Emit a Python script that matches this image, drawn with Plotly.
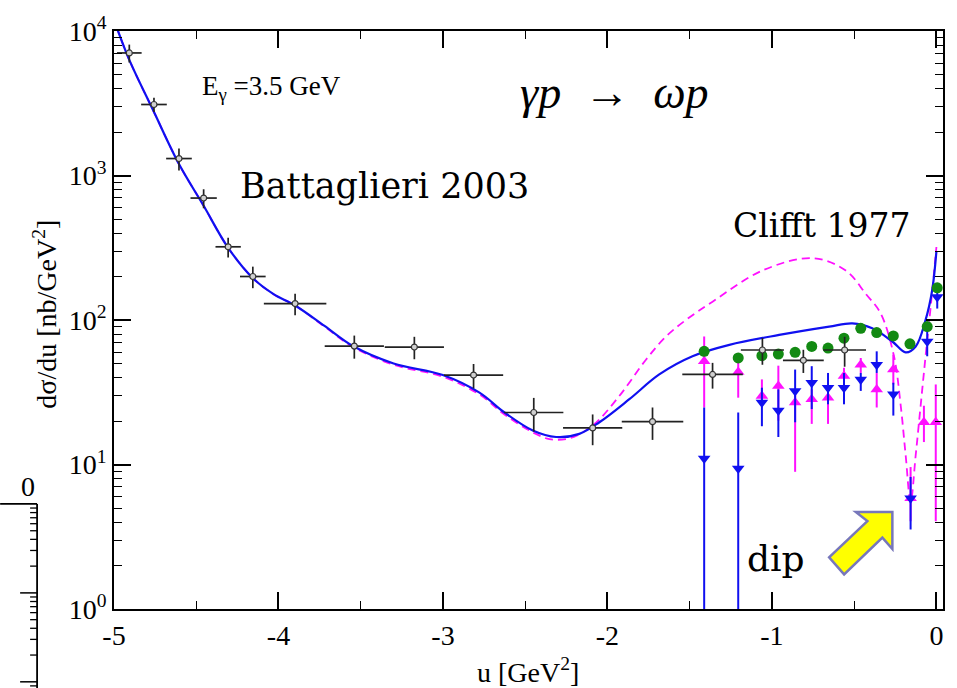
import math
import plotly.graph_objects as go

# ---------------------------------------------------------------- data
# Battaglieri 2003 (CLAS), E_gamma = 3.5 GeV
bat_u = [-4.907, -4.757, -4.605, -4.455, -4.306, -4.156, -3.899, -3.539, -3.174,
         -2.814, -2.448, -2.090, -1.726, -1.361, -1.058, -0.809, -0.558]
bat_xs = [7050, 3100, 1310, 698, 321, 200, 130, 66.0, 65.0,
          41.6, 22.9, 17.9, 19.8, 42.0, 62.0, 52.6, 62.0]
bat_du = [0.075, 0.078, 0.078, 0.080, 0.077, 0.078, 0.19, 0.18, 0.18,
          0.18, 0.18, 0.18, 0.187, 0.184, 0.131, 0.124, 0.13]
bat_err = [1000, 350, 225, 105, 50, 34, 22, 12, 11.5,
           8, 6, 4.3, 5, 8.5, 13, 9.6, 14.5]

# Clifft 1977 backward-angle data
clifft_u = [-1.412, -1.205, -1.061, -0.961, -0.859, -0.758, -0.659, -0.562,
            -0.460, -0.363, -0.262, -0.161, -0.056, 0.005]
clifft_xs = [60.7, 54.6, 56.6, 58.1, 59.7, 65.6, 63.9, 74.8,
             87.6, 81.8, 77.6, 68.4, 90.0, 167]

# magenta up-triangles: value, upper and lower end of the error bar
up_u = [-1.412, -1.205, -1.061, -0.961, -0.859, -0.758, -0.659, -0.562,
        -0.460, -0.363, -0.262, -0.157, -0.076, -0.004]
up_xs = [51.9, 43.6, 29.8, 34.9, 26.9, 28.3, 29.0, 40.9,
         49.1, 33.1, 45.4, 5.85, 19.6, 19.6]
up_hi = [76.9, 50.5, 38.8, 48.3, 33.1, 33.1, 33.1, 46.7,
         54.6, 43.0, 57.5, 9.6, 25.5, 35.8]
up_lo = [24.8, 29.0, 26.9, 20.1, 8.9, 19.1, 19.1, 36.8,
         43.0, 24.8, 35.8, 4.05, 14.3, 4.05]

# blue down-triangles: value, upper and lower end of the error bar
dn_u = [-1.412, -1.205, -1.061, -0.961, -0.859, -0.758, -0.659, -0.562,
        -0.460, -0.363, -0.262, -0.157, -0.056, 0.005]
dn_xs = [11.0, 9.38, 26.9, 23.6, 32.3, 36.8, 34.0, 34.0,
         38.8, 49.1, 30.6, 5.85, 71.0, 144.5]
dn_hi = [24.8, 22.9, 34.0, 33.1, 45.4, 47.9, 43.0, 43.0,
         43.0, 60.7, 36.8, 8.2, 87.6, 169]
dn_lo = [0.5, 0.5, 18.4, 15.5, 19.6, 24.2, 26.1, 26.1,
         32.3, 43.0, 21.8, 3.55, 56.1, 120]

# model curves (solid: full model, dashed: alternative)
full_u = [-4.985, -4.907, -4.757, -4.605, -4.455, -4.306, -4.156, -4.030, -3.899,
          -3.720, -3.547, -3.300, -3.001, -2.778, -2.626, -2.454, -2.312, -2.171,
          -2.049, -1.867, -1.685, -1.483, -1.259, -0.956, -0.652, -0.511, -0.390,
          -0.268, -0.187, -0.126, -0.066, -0.026, 0.0]
full_xs = [10700, 6310, 2750, 1200, 617, 316, 195, 151, 126,
           91, 66, 50, 41.6, 31.4, 22.9, 17.2, 15.5, 16.3,
           19.6, 28.3, 42.0, 56.1, 67.3, 78.8, 90.0, 94.8, 87.6,
           71.0, 59.7, 65.6, 100, 160, 300]

alt_u = [-4.985, -4.907, -4.757, -4.605, -4.455, -4.306, -4.156, -4.030, -3.899,
         -3.720, -3.547, -3.300, -3.001, -2.778, -2.626, -2.454, -2.353, -2.231,
         -2.090, -1.928, -1.766, -1.644, -1.523, -1.361, -1.058, -0.754, -0.551,
         -0.430, -0.339, -0.258, -0.217, -0.187, -0.157, -0.126, -0.096, -0.066,
         -0.035, 0.0]
alt_xs = [10700, 6310, 2750, 1200, 617, 316, 195, 151, 126,
          90, 65, 49, 40.5, 30.5, 22.2, 16.7, 15.0, 15.2,
          18.6, 29.8, 53.1, 76.9, 100, 134, 220, 268, 220,
          152, 111, 56.1, 25.5, 11.6, 5.5, 11.6, 25.5, 56.1,
          123, 320]

x_ticks = [-5, -4, -3, -2, -1, 0]
x_labels = ["-5", "-4", "-3", "-2", "-1", "0"]
y_ticks = [1, 10, 100, 1000, 10000]
y_labels = ["10<sup>0</sup>", "10<sup>1</sup>", "10<sup>2</sup>",
            "10<sup>3</sup>", "10<sup>4</sup>"]

# ---------------------------------------------------------------- layout helpers
W, H = 957, 688
ML, MR, MT, MB = 114, 13, 24, 79
PW, PH = W - ML - MR, H - MT - MB


def px(x):
    return (x - ML) / PW


def py(y):
    return (H - MB - y) / PH


SERIF = "Liberation Serif, Times New Roman, serif"
CM = "DejaVu Serif, serif"
BLUE = "#1010f0"
MAGENTA = "#ff10ff"
GREEN = "#138a13"

fig = go.Figure()

fig.add_trace(go.Scatter(
    x=alt_u, y=alt_xs, mode="lines",
    line=dict(color=MAGENTA, width=1.8, dash="8px,5px", shape="spline", smoothing=1.0),
    hoverinfo="skip"))
fig.add_trace(go.Scatter(
    x=full_u, y=full_xs, mode="lines",
    line=dict(color=BLUE, width=2.2, shape="spline", smoothing=1.0),
    hoverinfo="skip"))


def asym(vals, hi, lo):
    return ([h - v for v, h in zip(vals, hi)], [v - l for v, l in zip(vals, lo)])


e_up, e_um = asym(up_xs, up_hi, up_lo)
fig.add_trace(go.Scatter(
    x=up_u, y=up_xs, mode="markers",
    marker=dict(symbol="triangle-up", size=11, color=MAGENTA),
    error_y=dict(type="data", symmetric=False, array=e_up, arrayminus=e_um,
                 color=MAGENTA, thickness=2, width=0)))

e_dp, e_dm = asym(dn_xs, dn_hi, dn_lo)
fig.add_trace(go.Scatter(
    x=dn_u, y=dn_xs, mode="markers",
    marker=dict(symbol="triangle-down", size=11, color=BLUE),
    error_y=dict(type="data", symmetric=False, array=e_dp, arrayminus=e_dm,
                 color=BLUE, thickness=2, width=0)))

fig.add_trace(go.Scatter(
    x=clifft_u, y=clifft_xs, mode="markers",
    marker=dict(symbol="circle", size=11, color=GREEN)))

fig.add_trace(go.Scatter(
    x=bat_u, y=bat_xs, mode="markers",
    marker=dict(symbol="circle", size=6, color="#d0d0d0",
                line=dict(color="#333333", width=1.2)),
    error_x=dict(type="data", array=bat_du, color="#222222", thickness=1.7, width=0),
    error_y=dict(type="data", array=bat_err, color="#222222", thickness=1.7, width=0)))

axis_common = dict(
    showline=True, linecolor="black", linewidth=1.8, mirror="ticks",
    ticks="inside", ticklen=17, tickwidth=1.6, tickcolor="black",
    showgrid=False, zeroline=False,
    tickfont=dict(family=SERIF, size=28, color="black"))

fig.update_xaxes(
    range=[-5, 0.04], tickvals=x_ticks, ticktext=x_labels,
    minor=dict(tickvals=[-4.5, -3.5, -2.5, -1.5, -0.5], ticklen=8,
               tickwidth=1.4, ticks="inside", tickcolor="black", showgrid=False),
    **axis_common)
fig.update_yaxes(
    type="log", range=[0, 4], tickvals=y_ticks, ticktext=y_labels,
    minor=dict(tickvals=[k * 10 ** n for n in range(4) for k in range(2, 10)],
               ticklen=8, tickwidth=1.4, ticks="inside", tickcolor="black",
               showgrid=False),
    **axis_common)

NB = "\u00a0"
annotations = [
    dict(x=px(528), y=py(671), text="u [GeV<sup>2</sup>]",
         font=dict(family=SERIF, size=28, color="black")),
    dict(x=px(45), y=py(311), text="dσ/du [nb/GeV<sup>2</sup>]", textangle=-90,
         font=dict(family=SERIF, size=28, color="black")),
    dict(x=px(272), y=py(82), text="E<sub>γ</sub> =3.5 GeV",
         font=dict(family=SERIF, size=27, color="black")),
    dict(x=px(615), y=py(86), text=f"<i>γp</i>{NB*2}→{NB*2}<i>ωp</i>",
         font=dict(family=SERIF, size=46, color="black")),
    dict(x=px(385), y=py(181), text="Battaglieri 2003",
         font=dict(family=CM, size=35, color="black")),
    dict(x=px(823), y=py(221), text="Clifft 1977",
         font=dict(family=CM, size=33, color="black")),
    dict(x=px(777), y=py(558), text="dip",
         font=dict(family=CM, size=36, color="black")),
    dict(x=px(28), y=py(485), text="0",
         font=dict(family=SERIF, size=28, color="black")),
]
for a in annotations:
    a.update(xref="paper", yref="paper", showarrow=False,
             xanchor="center", yanchor="middle")

shapes = []

# yellow block arrow pointing at the dip
arrow_pts = [(856.7, 510.7), (893.3, 510.7), (893.3, 548.3), (883.3, 536.7),
             (845.0, 574.0), (830.0, 556.7), (868.3, 520.0)]
path = "M " + " L ".join(f"{px(x):.5f},{py(y):.5f}" for x, y in arrow_pts) + " Z"
shapes.append(dict(type="path", xref="paper", yref="paper", path=path,
                   fillcolor="#ffff00", line=dict(color="#7777bb", width=2.5)))

# corner of the neighbouring panel: frame and its log-axis ticks
edge_x, top_y, dec = 37.0, 502.7, 90.0
shapes.append(dict(type="line", xref="paper", yref="paper",
                   x0=px(0), x1=px(edge_x), y0=py(top_y), y1=py(top_y),
                   line=dict(color="black", width=1.8)))
shapes.append(dict(type="line", xref="paper", yref="paper",
                   x0=px(edge_x), x1=px(edge_x), y0=py(top_y), y1=py(H + 2),
                   line=dict(color="black", width=1.8)))
for d in range(3):
    base = top_y + dec * (d + 1)
    shapes.append(dict(type="line", xref="paper", yref="paper",
                       x0=px(edge_x - 17), x1=px(edge_x), y0=py(base), y1=py(base),
                       line=dict(color="black", width=1.5)))
    for k in range(2, 10):
        yy = base - dec * math.log10(k)
        if yy > H:
            continue
        shapes.append(dict(type="line", xref="paper", yref="paper",
                           x0=px(edge_x - 7), x1=px(edge_x), y0=py(yy), y1=py(yy),
                           line=dict(color="black", width=1.3)))

fig.update_layout(
    width=W, height=H, margin=dict(l=ML, r=MR, t=MT, b=MB),
    paper_bgcolor="white", plot_bgcolor="white",
    showlegend=False, annotations=annotations, shapes=shapes)

fig.write_html("out.html")
